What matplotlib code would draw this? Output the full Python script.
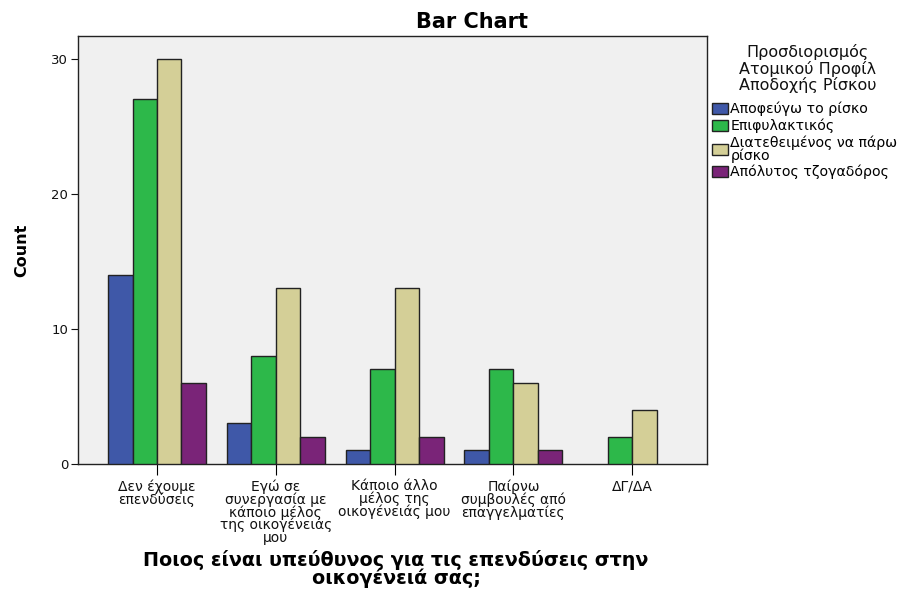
import matplotlib
matplotlib.use("Agg")
import matplotlib.pyplot as plt
import numpy as np
from matplotlib.patches import Patch

plt.rcParams['font.family'] = ['DejaVu Sans']

categories = ["Δεν έχουμε\nεπενδύσεις",
              "Εγώ σε\nσυνεργασία με\nκάποιο μέλος\nτης οικογένειας\nμου",
              "Κάποιο άλλο\nμέλος της\nοικογένειάς μου",
              "Παίρνω\nσυμβουλές από\nεπαγγελματίες",
              "ΔΓ/ΔΑ"]
series_names = ["Αποφεύγω το ρίσκο", "Επιφυλακτικός",
                "Διατεθειμένος να πάρω\nρίσκο", "Απόλυτος τζογαδόρος"]
legend_title = "Προσδιορισμός\nΑτομικού Προφίλ\nΑποδοχής Ρίσκου"
avoid = [14, 3, 1, 1, 0]
cautious = [27, 8, 7, 7, 2]
willing = [30, 13, 13, 6, 4]
gambler = [6, 2, 2, 1, 0]
values = [avoid, cautious, willing, gambler]
colors = ["#3F58A8", "#2DB84A", "#D4CF97", "#7A2478"]

fig = plt.figure(figsize=(9.07, 5.90), dpi=100)
ax = fig.add_axes([0.086, 0.2136, 0.6935, 0.7254])
ax.set_facecolor("#F0F0F0")

x = np.arange(len(categories))
w = 0.206
for i, (vals, c) in enumerate(zip(values, colors)):
    xs = x + (i - 1.5) * w
    for xi, v in zip(xs, vals):
        if v > 0:
            ax.bar(xi, v, width=w, color=c, edgecolor="#222222", linewidth=1.0, zorder=3)

ax.set_xlim(-0.665, 4.63)
ax.set_ylim(0, 31.7)
ax.set_yticks([0, 10, 20, 30])
ax.set_xticks(x)
ax.set_xticklabels(categories, fontsize=10, linespacing=0.86, color="#111111")
ax.tick_params(axis='y', labelsize=9.5, length=5, direction='out', colors="#111111", pad=2)
ax.tick_params(axis='x', length=8, direction='out', pad=3)
for s in ax.spines.values():
    s.set_color("#222222")
    s.set_linewidth(1.0)

ax.set_title("Bar Chart", fontsize=15, fontweight='bold', pad=6, x=0.626)
ax.set_ylabel("Count", fontsize=11.5, fontweight='bold', labelpad=16)
fig.text(396 / 907, 1 - 550 / 590,
         "Ποιος είναι υπεύθυνος για τις επενδύσεις στην\nοικογένειά σας;",
         fontsize=13.8, fontweight='bold', linespacing=0.85,
         ha='center', va='top', multialignment='center')

fig.text(808 / 907, 1 - 44 / 590, legend_title, fontsize=11.5, linespacing=1.05,
         ha='center', va='top', multialignment='center', color="#111111")

handles = [Patch(facecolor=c, edgecolor="#222222", linewidth=1.0) for c in colors]
leg = fig.legend(handles, series_names, loc='upper left', bbox_to_anchor=(0.785, 1 - 102 / 590),
                 frameon=False, fontsize=10.2, handlelength=1.1, handleheight=0.8,
                 handletextpad=0.2, labelspacing=0.17, borderaxespad=0, borderpad=0)
for t in leg.get_texts():
    t.set_linespacing(0.8)

fig.savefig("out.png", dpi=100)
